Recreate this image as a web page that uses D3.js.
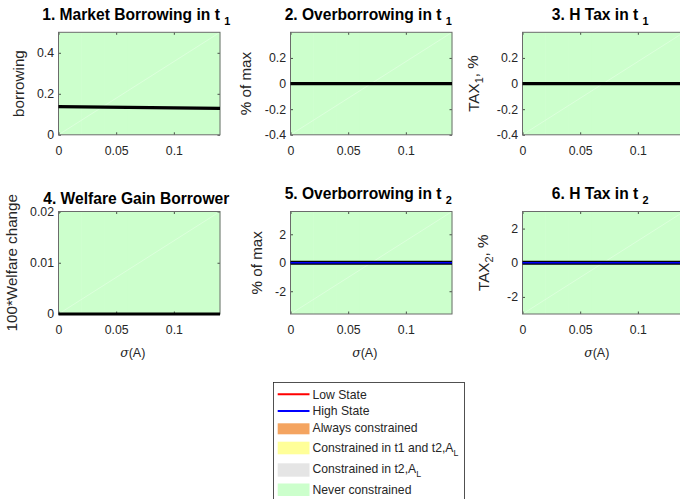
<!DOCTYPE html>
<html>
<head>
<meta charset="utf-8">
<script src="https://cdn.jsdelivr.net/npm/d3@7"></script>
<style>
  html, body { margin: 0; padding: 0; background: #fff; }
  svg { display: block; font-family: "Liberation Sans", Arial, Helvetica, sans-serif; }
</style>
</head>
<body>
<svg id="chart" width="680" height="499"></svg>
<script>
// Volatility grid sigma(A)
const sigma = [0, 0.02, 0.04, 0.06, 0.08, 0.10, 0.12, 0.14];

// Constraint regime at each grid point
const regime = ["never", "never", "never", "never", "never", "never", "never", "never"];

// Series
const borrowingT1      = [0.137, 0.136, 0.135, 0.134, 0.133, 0.131, 0.130, 0.129];
const overborrowT1     = [0, 0, 0, 0, 0, 0, 0, 0];
const taxT1            = [0, 0, 0, 0, 0, 0, 0, 0];
const welfareGain      = [0, 0, 0, 0, 0, 0, 0, 0];
const overborrowT2     = [0, 0, 0, 0, 0, 0, 0, 0];
const overborrowT2High = [0, 0, 0, 0, 0, 0, 0, 0];
const taxT2            = [0, 0, 0, 0, 0, 0, 0, 0];
const taxT2High        = [0, 0, 0, 0, 0, 0, 0, 0];

// Tick labels
const xTicks = [0, 0.05, 0.1];
const yTicksBorrow = [0, 0.2, 0.4];
const yTicksT1 = [-0.4, -0.2, 0, 0.2];
const yTicksWelfare = [0, 0.01, 0.02];
const yTicksT2 = [-2, 0, 2];

// Legend entries
const legendLines = [
  { label: "Low State", key: "low" },
  { label: "High State", key: "high" }
];
const legendPatches = [
  { label: "Always constrained", key: "always" },
  { label: "Constrained in t1 and t2,A", sub: "L", key: "t1t2" },
  { label: "Constrained in t2,A", sub: "L", key: "t2" },
  { label: "Never constrained", key: "never" }
];

const colors = {
  low: "#ff0000", high: "#0000ff",
  always: "#f4a460", t1t2: "#ffff99", t2: "#e5e5e5", never: "#ccffcc",
  avg: "#000000"
};

const svg = d3.select("#chart");
const FONT_TICK = 12.3, FONT_TITLE = 15.6, FONT_YLAB = 15.2, FONT_XLAB = 12.5;
const txt = "#262626";

const colX = [58.5, 290.5, 522.5];
const rowY = [32.3, 211.5];
const W = 161.5, H = 102.5;

const panels = [
  { col: 0, row: 0, title: "1. Market Borrowing in t", tsub: "1", ylab: "borrowing",
    yDomain: [0, 0.5], yTicks: yTicksBorrow,
    lines: [{ data: borrowingT1, color: colors.avg, w: 3.2 }], ylabGap: 18 },
  { col: 1, row: 0, title: "2. Overborrowing in t", tsub: "1", ylab: "% of max",
    yDomain: [-0.4, 0.4], yTicks: yTicksT1,
    lines: [{ data: overborrowT1, color: colors.avg, w: 3.2 }], ylabGap: 19 },
  { col: 2, row: 0, title: "3. H Tax in t", tsub: "1", ylab: "TAX", ysub: "1", ylabTail: ", %",
    yDomain: [-0.4, 0.4], yTicks: yTicksT1,
    lines: [{ data: taxT1, color: colors.avg, w: 3.2 }], ylabGap: 23 },
  { col: 0, row: 1, title: "4. Welfare Gain Borrower", ylab: "100*Welfare change",
    yDomain: [0, 0.02], yTicks: yTicksWelfare, xlab: true,
    lines: [{ data: welfareGain, color: colors.avg, w: 3.2 }], ylabGap: 18 },
  { col: 1, row: 1, title: "5. Overborrowing in t", tsub: "2", ylab: "% of max",
    yDomain: [-3.6, 3.6], yTicks: yTicksT2, xlab: true,
    lines: [{ data: overborrowT2, color: colors.avg, w: 3.8 },
            { data: overborrowT2High, color: colors.high, w: 1.7 }], ylabGap: 18 },
  { col: 2, row: 1, title: "6. H Tax in t", tsub: "2", ylab: "TAX", ysub: "2", ylabTail: ", %",
    yDomain: [-3, 3], yTicks: yTicksT2, xlab: true,
    lines: [{ data: taxT2, color: colors.avg, w: 3.8 },
            { data: taxT2High, color: colors.high, w: 1.7 }], ylabGap: 23 }
];

const fmt = d => String(+d.toFixed(4));

panels.forEach(p => {
  const x0 = colX[p.col], y0 = rowY[p.row];
  const x = d3.scaleLinear().domain([0, 0.14]).range([x0, x0 + W]);
  const y = d3.scaleLinear().domain(p.yDomain).range([y0 + H, y0]);
  const g = svg.append("g");

  // regime shading between consecutive grid points
  for (let i = 0; i < sigma.length - 1; i++) {
    g.append("rect")
      .attr("x", x(sigma[i])).attr("y", y0)
      .attr("width", x(sigma[i + 1]) - x(sigma[i]) + 0.3).attr("height", H)
      .attr("fill", colors[regime[i]]);
  }
  // seam of the patch triangulation
  g.append("line")
    .attr("x1", x(sigma[0])).attr("y1", y0 + H)
    .attr("x2", x(sigma[sigma.length - 1])).attr("y2", y0)
    .attr("stroke", "#fff").attr("stroke-opacity", 0.45).attr("stroke-width", 0.7);

  // axes (ticks inside, box on all sides)
  const tl = 2.5;
  const axB = g.append("g").attr("transform", `translate(0,${y0 + H})`)
    .call(d3.axisBottom(x).tickValues(xTicks).tickFormat(fmt).tickSizeInner(-tl).tickSizeOuter(0).tickPadding(8));
  const axT = g.append("g").attr("transform", `translate(0,${y0})`)
    .call(d3.axisTop(x).tickValues(xTicks).tickFormat("").tickSizeInner(-tl).tickSizeOuter(0));
  const axL = g.append("g").attr("transform", `translate(${x0},0)`)
    .call(d3.axisLeft(y).tickValues(p.yTicks).tickFormat(fmt).tickSizeInner(-tl).tickSizeOuter(0).tickPadding(4.5));
  const axR = g.append("g").attr("transform", `translate(${x0 + W},0)`)
    .call(d3.axisRight(y).tickValues(p.yTicks).tickFormat("").tickSizeInner(-tl).tickSizeOuter(0));
  [axB, axT, axL, axR].forEach(a => {
    a.select(".domain").remove();
    a.selectAll(".tick line").attr("stroke", "#262626").attr("stroke-width", 0.8);
    a.selectAll("text").attr("fill", txt).attr("font-size", FONT_TICK)
      .attr("font-family", "Liberation Sans, Arial, sans-serif");
  });
  axB.selectAll("text").attr("dy", null).attr("y", 20).attr("dominant-baseline", "auto");
  g.append("rect").attr("x", x0).attr("y", y0).attr("width", W).attr("height", H)
    .attr("fill", "none").attr("stroke", "#6b6b6b").attr("stroke-width", 1);

  // series lines, drawn above the frame
  p.lines.forEach(s => {
    g.append("path")
      .datum(s.data)
      .attr("fill", "none").attr("stroke", s.color).attr("stroke-width", s.w)
      .attr("d", d3.line().x((d, i) => x(sigma[i])).y(d => y(d)));
  });

  // title
  const t = svg.append("text")
    .attr("x", x0 + W / 2 - 3).attr("y", p.tsub ? y0 - 12.5 : y0 - 8)
    .attr("text-anchor", "middle").attr("font-weight", "bold")
    .attr("font-size", FONT_TITLE).attr("fill", "#000");
  t.append("tspan").text(p.title + (p.tsub ? " " : ""));
  if (p.tsub) t.append("tspan").attr("dy", 5).attr("font-size", FONT_TITLE * 0.7).text(p.tsub);

  // y label placed left of the widest tick label
  let minX = 0;
  axL.selectAll(".tick text").each(function () {
    minX = Math.min(minX, this.getBBox().x);
  });
  const lx = x0 + minX - p.ylabGap;
  const yl = svg.append("text")
    .attr("transform", `translate(${lx},${y0 + H / 2}) rotate(-90)`)
    .attr("text-anchor", "middle").attr("dy", "0.35em")
    .attr("font-size", FONT_YLAB).attr("fill", txt);
  yl.append("tspan").text(p.ylab);
  if (p.ysub) {
    yl.append("tspan").attr("dy", "0.35em").attr("font-size", FONT_YLAB * 0.72).text(p.ysub);
    yl.append("tspan").attr("dy", "-0.35em").text(p.ylabTail);
  }

  // x label
  if (p.xlab) {
    const xl = svg.append("text")
      .attr("x", x0 + W / 2 - 6.5).attr("y", y0 + H + 43)
      .attr("text-anchor", "middle").attr("font-size", FONT_XLAB).attr("fill", txt);
    xl.append("tspan").attr("font-family", "DejaVu Serif, serif").attr("font-style", "italic").text("σ");
    xl.append("tspan").text("(A)");
  }
});

// legend
const lg = svg.append("g");
const box = lg.append("rect").attr("x", 273.5).attr("y", 382.5).attr("height", 130)
  .attr("fill", "#fff").attr("stroke", "#262626").attr("stroke-width", 0.8);
const sx0 = 277.7, sx1 = 309.5, tx = 312.5, LFONT = 12.2;
const lineY = [394.3, 411];
let maxRight = 0;
legendLines.forEach((e, i) => {
  lg.append("line").attr("x1", sx0).attr("x2", sx1).attr("y1", lineY[i]).attr("y2", lineY[i])
    .attr("stroke", colors[e.key]).attr("stroke-width", 2);
  const t = lg.append("text").attr("x", tx).attr("y", lineY[i]).attr("dy", "0.35em")
    .attr("font-size", LFONT).attr("fill", txt).text(e.label);
  const b = t.node().getBBox(); maxRight = Math.max(maxRight, b.x + b.width);
});
const patchY = [[423.3, 434.3], [441.7, 454.3], [463.3, 476.7], [483.5, 496]];
const textY = [432.3, 451.5, 472.5, 494.3];
legendPatches.forEach((e, i) => {
  lg.append("rect").attr("x", sx0).attr("y", patchY[i][0]).attr("width", sx1 - sx0)
    .attr("height", patchY[i][1] - patchY[i][0]).attr("fill", colors[e.key]);
  const t = lg.append("text").attr("x", tx).attr("y", textY[i])
    .attr("font-size", LFONT).attr("fill", txt);
  t.append("tspan").text(e.label);
  if (e.sub) t.append("tspan").attr("dy", 4).attr("font-size", LFONT * 0.72).text(e.sub);
  const b = t.node().getBBox(); maxRight = Math.max(maxRight, b.x + b.width);
});
box.attr("width", maxRight + 6 - 273.5);
</script>
</body>
</html>
